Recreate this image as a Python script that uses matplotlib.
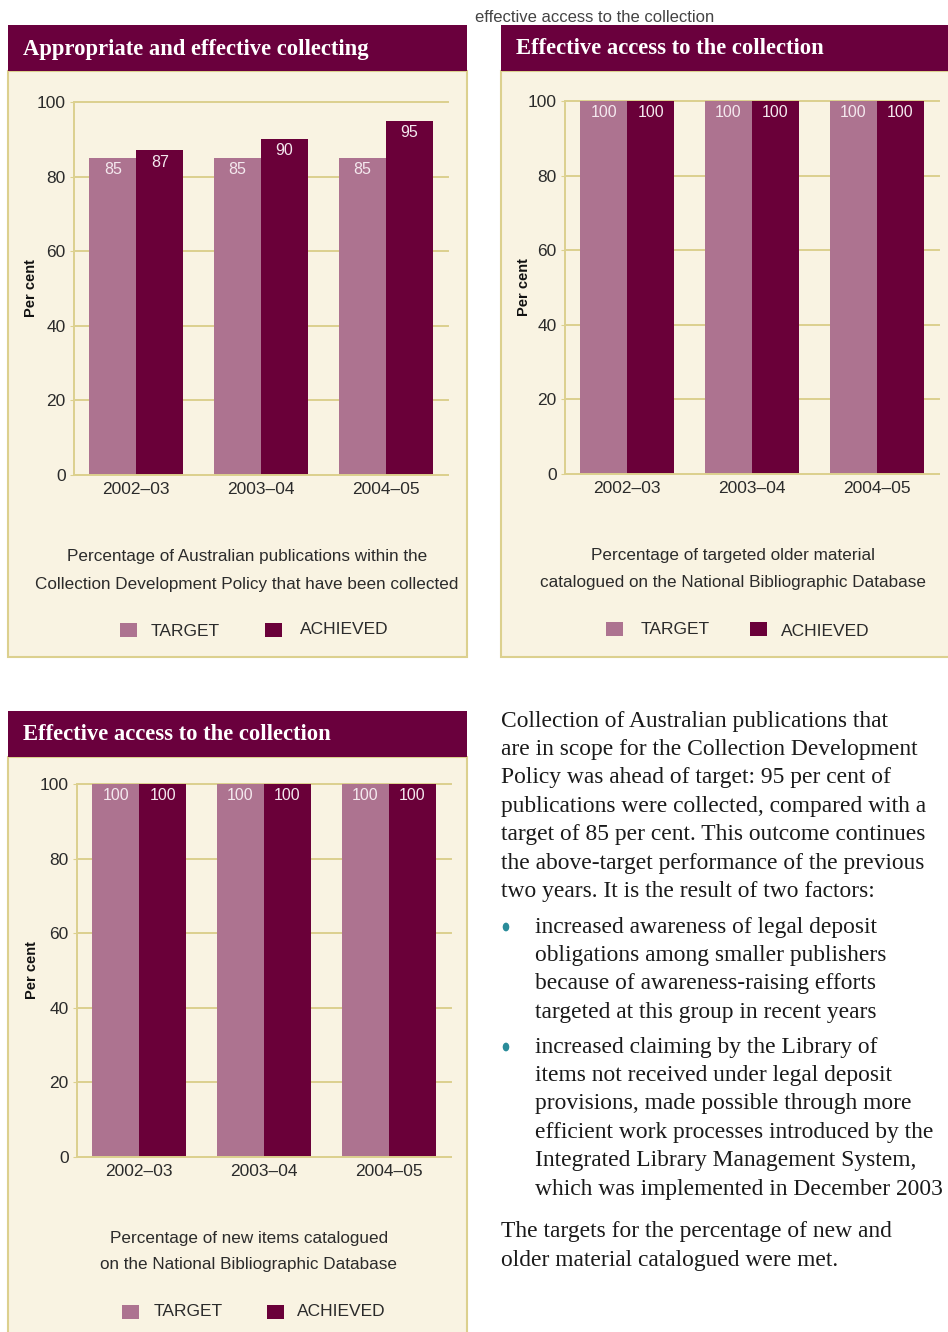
import matplotlib.pyplot as plt
from matplotlib.patches import Rectangle, Circle
import numpy as np

# dati dei tre grafici
years = ['2002–03', '2003–04', '2004–05']
target_collecting = [85, 85, 85]
achieved_collecting = [87, 90, 95]
target_older = [100, 100, 100]
achieved_older = [100, 100, 100]
target_new = [100, 100, 100]
achieved_new = [100, 100, 100]

titles = ['Appropriate and effective collecting',
          'Effective access to the collection',
          'Effective access to the collection']
captions = [['Percentage of Australian publications within the',
             'Collection Development Policy that have been collected'],
            ['Percentage of targeted older material',
             'catalogued on the National Bibliographic Database'],
            ['Percentage of new items catalogued',
             'on the National Bibliographic Database']]
legend_labels = ['TARGET', 'ACHIEVED']

# colori
TARGET_C = '#AD7390'
ACHIEVED_C = '#6A0039'
HEADER_C = '#6A003D'
CREAM = '#F9F3E2'
KHAKI = '#DCD08E'
TEXT_C = '#2B2B2B'

SANS = ['Liberation Sans', 'DejaVu Sans']
SERIF = ['Liberation Serif', 'DejaVu Serif']

W, H = 948, 1332
fig = plt.figure(figsize=(W / 100, H / 100), dpi=100)


def fx(x):
    return x / W


def fy(y):
    return 1 - y / H


def rect(x0, y0, x1, y1, **kw):
    r = Rectangle((fx(x0), fy(y1)), fx(x1) - fx(x0), fy(y0) - fy(y1),
                  transform=fig.transFigure, zorder=-2, **kw)
    fig.add_artist(r)


def panel(x0, x1, ytop, ybot, title):
    # corpo crema con bordo e intestazione bordeaux
    rect(x0, ytop + 46, x1, ybot, facecolor=CREAM, edgecolor=KHAKI, linewidth=1.5)
    rect(x0, ytop, x1, ytop + 46, facecolor=HEADER_C, edgecolor='none')
    fig.text(fx(x0 + 15), fy(ytop + 24), title, family=SERIF, fontweight='bold',
             fontsize=16.3, color='white', va='center', ha='left')


def chart(left, top, bottom, target, achieved, ylab_x):
    ax = fig.add_axes([fx(left), fy(bottom), fx(374), (bottom - top) / H])
    ax.set_facecolor('none')
    x = np.arange(len(years))
    width = 0.377
    b1 = ax.bar(x - width / 2, target, width, color=TARGET_C, zorder=2)
    b2 = ax.bar(x + width / 2, achieved, width, color=ACHIEVED_C, zorder=2)
    for bars in (b1, b2):
        for b in bars:
            ax.annotate(f'{b.get_height():.0f}', (b.get_x() + b.get_width() / 2, b.get_height()),
                        xytext=(0, -3), textcoords='offset points', ha='center', va='top',
                        color='#F4E8EE', fontsize=11.5, family=SANS, fontstretch='condensed',
                        zorder=3)
    ax.set_xlim(-0.5, 2.5)
    ax.set_ylim(0, 100)
    ax.set_yticks(range(0, 101, 20))
    ax.set_xticks(x)
    ax.set_xticklabels(years)
    ax.yaxis.grid(True, color=KHAKI, linewidth=1.4)
    for gl in ax.get_ygridlines():
        gl.set_clip_on(False)
    ax.set_axisbelow(True)
    for s in ['top', 'right']:
        ax.spines[s].set_visible(False)
    for s in ['left', 'bottom']:
        ax.spines[s].set_color(KHAKI)
        ax.spines[s].set_linewidth(1.4)
    ax.tick_params(axis='y', length=3, color=KHAKI, labelsize=12.5, labelcolor=TEXT_C, pad=3)
    ax.tick_params(axis='x', length=0, labelsize=12.5, labelcolor=TEXT_C, pad=5)
    for lab in ax.get_xticklabels() + ax.get_yticklabels():
        lab.set_family(SANS)
    fig.text(fx(ylab_x), fy((top + bottom) / 2), 'Per cent', rotation=90, family=SANS,
             fontweight='bold', fontsize=10.5, color='#111', ha='center', va='center')
    return ax


def caption(cx, y1, lines):
    for i, line in enumerate(lines):
        fig.text(fx(cx), fy(y1 + 27 * i), line, family=SANS, fontsize=12.3, color=TEXT_C,
                 ha='center', va='center')


def legend(items):
    # items: (x quadrato, y quadrato, x testo, y testo)
    for (sx, sy, tx, ty), col, lab in zip(items, [TARGET_C, ACHIEVED_C], legend_labels):
        rect(sx, sy - 7, sx + 17, sy + 7, facecolor=col, edgecolor='none')
        fig.text(fx(tx), fy(ty), lab, family=SANS, fontsize=12.5, color=TEXT_C,
                 ha='left', va='center')


# testo in alto
fig.text(fx(475), fy(17), 'effective access to the collection', family=SANS,
         fontsize=12, color='#444', ha='left', va='center')

# pannello 1
panel(8, 467, 25, 657, titles[0])
chart(74, 102, 475, target_collecting, achieved_collecting, 31)
caption(247, 557, captions[0])
legend([(120, 630, 151, 631), (265, 630, 300, 629)])

# pannello 2
panel(501, 960, 25, 657, titles[1])
chart(565, 101, 474, target_older, achieved_older, 524)
caption(733, 555, captions[1])
legend([(606, 629, 641, 629), (750, 629, 781, 631)])

# pannello 3
panel(8, 467, 711, 1345, titles[2])
chart(77, 784, 1157, target_new, achieved_new, 32)
caption(249, 1238, captions[2])
legend([(122, 1312, 154, 1312), (267, 1312, 297, 1312)])

# testo del corpo a destra
para1 = ['Collection of Australian publications that',
         'are in scope for the Collection Development',
         'Policy was ahead of target: 95 per cent of',
         'publications were collected, compared with a',
         'target of 85 per cent. This outcome continues',
         'the above-target performance of the previous',
         'two years. It is the result of two factors:']
bullet1 = ['increased awareness of legal deposit',
           'obligations among smaller publishers',
           'because of awareness-raising efforts',
           'targeted at this group in recent years']
bullet2 = ['increased claiming by the Library of',
           'items not received under legal deposit',
           'provisions, made possible through more',
           'efficient work processes introduced by the',
           'Integrated Library Management System,',
           'which was implemented in December 2003']
para2 = ['The targets for the percentage of new and',
         'older material catalogued were met.']

LS = 28.4


def body(x, y0, lines):
    for i, line in enumerate(lines):
        fig.text(fx(x), fy(y0 + LS * i), line, family=SERIF, fontsize=16.9,
                 color='#1A1A1A', ha='left', va='center')


body(501, 721, para1)
body(535, 927, bullet1)
body(535, 1047, bullet2)
body(501, 1232, para2)
for by in (927, 1047):
    fig.add_artist(Circle((fx(506), fy(by)), 2.6 / W, transform=fig.transFigure,
                          color='#2A8C9A'))

fig.savefig('out.png', dpi=100)
